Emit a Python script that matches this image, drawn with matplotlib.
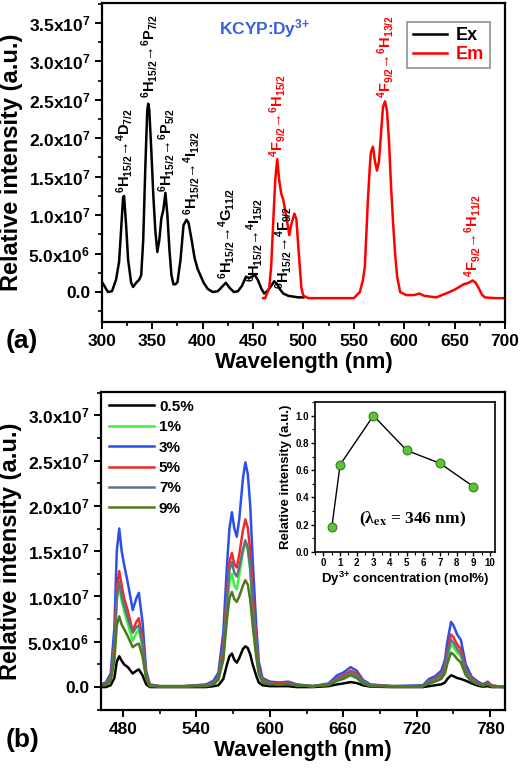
import matplotlib
matplotlib.use('Agg')
import matplotlib.pyplot as plt
from matplotlib.ticker import MultipleLocator

plt.rcParams['font.family'] = ['Liberation Sans', 'DejaVu Sans']
plt.rcParams['font.weight'] = 'bold'
plt.rcParams['mathtext.fontset'] = 'custom'
plt.rcParams['mathtext.rm'] = 'Liberation Sans:bold'
plt.rcParams['mathtext.bf'] = 'Liberation Sans:bold'
plt.rcParams['mathtext.default'] = 'bf'

# ---- (a) excitation / emission spectra (intensity in 1e6 a.u.)
ex_wl = [300, 303, 306, 310, 314, 317, 319, 321, 322, 324, 326, 329, 331, 334, 337, 339,
         341, 343, 345, 346, 347, 349, 351, 353, 355, 357, 359, 361, 363, 365, 367, 369,
         371, 373, 375, 378, 381, 384, 386, 389, 392, 395, 398, 401, 405, 410, 415, 419,
         423, 427, 431, 435, 439, 443, 446, 449, 452, 455, 458, 461, 464, 468, 471, 474,
         477, 480, 485, 490, 495, 500]
ex_int = [1.3, 0.65, 0.0, 0.1, 1.6, 3.9, 8.0, 12.3, 12.5, 8.7, 4.2, 1.2, 0.65, 1.2, 1.6, 2.2,
          6.8, 15.9, 23.7, 24.5, 23.7, 18.5, 12.6, 8.0, 5.2, 6.8, 9.6, 10.7, 12.9, 10.0, 5.5, 2.2,
          1.0, 1.0, 1.3, 4.2, 8.7, 9.4, 9.0, 6.8, 4.4, 3.0, 2.1, 1.2, 0.4, 0.0, 0.1, 0.65,
          1.2, 0.5, 0.0, 0.1, 0.8, 2.0, 1.8, 2.0, 2.2, 1.5, 0.5, -0.2, 0.1, 0.8, 1.4, 1.0,
          0.3, -0.2, -0.5, -0.6, -0.7, -0.7]
em_wl = [460, 462, 466, 468, 470, 472, 474, 476, 478, 480, 483, 486, 488, 491, 493, 494,
         496, 498, 500, 505, 530, 550, 556, 559, 561, 564, 566, 567, 569, 571, 573, 575,
         577, 579, 581, 583, 585, 587, 589, 591, 593, 596, 602, 610, 615, 620, 632, 645,
         650, 654, 659, 664, 668, 671, 674, 677, 680, 690, 700]
em_int = [-0.8, -0.8, 0.5, 3.3, 9.0, 14.5, 17.3, 14.5, 12.8, 12.0, 9.8, 7.4, 8.8, 10.2, 9.5, 7.6,
          4.0, 0.5, -0.5, -0.8, -0.8, -0.8, 0.0, 1.5, 3.3, 12.0, 16.5, 18.2, 18.9, 17.0, 15.8, 17.0,
          20.6, 24.1, 24.8, 23.5, 19.5, 13.7, 9.0, 5.0, 2.0, 0.0, -0.4, -0.4, -0.2, -0.5, -0.7, 0.0,
          0.3, 0.6, 1.0, 1.2, 1.5, 1.2, 0.5, -0.3, -0.7, -0.8, -0.8]

top_yticks = [0, 5e6, 1e7, 1.5e7, 2e7, 2.5e7, 3e7, 3.5e7]
top_yticklabels = ['0.0', '5.0x10$^6$', '1.0x10$^7$', '1.5x10$^7$', '2.0x10$^7$',
                   '2.5x10$^7$', '3.0x10$^7$', '3.5x10$^7$']

# transition labels: (wavelength, bottom of text in 1e6, text, colour)
ex_labels = [
    (322, 12.9, '$^6$H$_{15/2}$→$^4$D$_{7/2}$', 'black'),
    (347, 25.2, '$^6$H$_{15/2}$→$^6$P$_{7/2}$', 'black'),
    (364, 13.0, '$^6$H$_{15/2}$→$^6$P$_{5/2}$', 'black'),
    (389, 10.0, '$^6$H$_{15/2}$→$^4$I$_{13/2}$', 'black'),
    (424, 1.7, '$^6$H$_{15/2}$→$^4$G$_{11/2}$', 'black'),
    (451, 1.3, '$^6$H$_{15/2}$→$^4$I$_{15/2}$', 'black'),
    (480, 0.4, '$^6$H$_{15/2}$→$^4$F$_{9/2}$', 'black'),
    (474, 17.6, '$^4$F$_{9/2}$→$^6$H$_{15/2}$', 'red'),
    (581, 25.2, '$^4$F$_{9/2}$→$^6$H$_{13/2}$', 'red'),
    (668, 1.9, '$^4$F$_{9/2}$→$^6$H$_{11/2}$', 'red'),
]

# ---- (b) emission vs Dy concentration (intensity in 1e6 a.u.)
wl_b = [462, 466, 470, 473, 475, 477, 479, 481, 484, 488, 491, 493, 496, 499, 502, 510,
        530, 548, 554, 558, 562, 565, 567, 569, 571, 573, 575, 578, 580, 582, 584, 586,
        589, 591, 594, 600, 608, 615, 622, 635, 648, 655, 660, 666, 671, 676, 682, 700,
        725, 730, 735, 740, 743, 745, 748, 750, 753, 756, 760, 765, 770, 774, 778, 781,
        785, 792]
conc_labels = ['0.5%', '1%', '3%', '5%', '7%', '9%']
int_05 = [0.0, 0.0, 0.2, 1.0, 2.8, 3.4, 2.9, 2.5, 2.2, 1.5, 1.8, 1.95, 1.3, 0.3, 0.0, 0.0,
          0.0, 0.0, 0.1, 0.2, 0.9, 2.5, 3.4, 3.7, 3.0, 2.7, 3.2, 4.2, 4.5, 4.3, 3.6, 2.5,
          1.2, 0.5, 0.2, 0.1, 0.1, 0.1, 0.0, 0.0, 0.1, 0.3, 0.4, 0.55, 0.45, 0.2, 0.05, 0.0,
          0.0, 0.1, 0.2, 0.3, 0.5, 0.9, 1.3, 1.2, 1.0, 0.9, 0.7, 0.4, 0.15, 0.05, 0.1, 0.0,
          0.0, 0.0]
int_1 = [0.2, 0.3, 0.9, 4.2, 9.6, 11.2, 9.5, 8.4, 7.0, 5.1, 6.0, 6.3, 4.4, 1.1, 0.2, 0.1,
         0.1, 0.2, 0.4, 1.0, 3.6, 8.6, 11.5, 12.5, 11.2, 10.8, 12.4, 14.9, 16.0, 15.1, 12.8, 9.0,
         4.2, 1.8, 0.7, 0.4, 0.3, 0.4, 0.2, 0.1, 0.3, 0.9, 1.1, 1.5, 1.2, 0.5, 0.2, 0.1,
         0.1, 0.6, 0.8, 1.2, 2.0, 3.3, 4.7, 4.4, 3.8, 3.4, 1.6, 0.7, 0.4, 0.2, 0.4, 0.1,
         0.1, 0.0]
int_3 = [0.3, 0.5, 1.5, 6.5, 15.0, 17.5, 15.0, 13.5, 11.5, 8.5, 9.8, 10.4, 7.2, 1.8, 0.3, 0.1,
         0.1, 0.3, 0.7, 1.6, 6.0, 13.5, 17.5, 19.3, 17.5, 16.6, 18.5, 23.0, 24.8, 23.5, 20.0, 14.0,
         6.5, 2.8, 1.0, 0.6, 0.5, 0.6, 0.3, 0.1, 0.4, 1.3, 1.6, 2.2, 1.8, 0.8, 0.3, 0.1,
         0.2, 0.9, 1.2, 1.8, 3.0, 5.0, 7.2, 6.8, 5.8, 5.2, 2.5, 1.1, 0.6, 0.3, 0.6, 0.2,
         0.1, 0.0]
int_5 = [0.2, 0.4, 1.1, 4.8, 11.0, 12.8, 11.2, 9.8, 8.4, 6.2, 7.2, 7.6, 5.3, 1.4, 0.2, 0.1,
         0.1, 0.2, 0.5, 1.2, 4.5, 10.5, 13.8, 14.8, 13.6, 13.2, 14.6, 17.3, 18.5, 17.6, 15.0, 10.5,
         4.9, 2.1, 0.8, 0.5, 0.4, 0.5, 0.2, 0.1, 0.3, 1.0, 1.3, 1.8, 1.5, 0.6, 0.2, 0.1,
         0.1, 0.7, 1.0, 1.4, 2.4, 4.0, 5.8, 5.5, 4.7, 4.2, 2.0, 0.9, 0.5, 0.2, 0.5, 0.2,
         0.1, 0.0]
int_7 = [0.2, 0.3, 1.0, 4.3, 9.9, 11.6, 10.0, 9.0, 7.6, 6.0, 6.6, 6.8, 4.8, 1.2, 0.2, 0.1,
         0.1, 0.2, 0.5, 1.1, 4.0, 9.8, 12.9, 13.8, 12.6, 12.2, 13.2, 15.2, 16.2, 15.4, 13.2, 9.2,
         4.3, 1.9, 0.7, 0.4, 0.3, 0.4, 0.2, 0.1, 0.3, 0.9, 1.1, 1.6, 1.3, 0.6, 0.2, 0.1,
         0.1, 0.6, 0.9, 1.2, 2.1, 3.6, 5.2, 4.9, 4.2, 3.7, 1.8, 0.8, 0.4, 0.2, 0.4, 0.1,
         0.1, 0.0]
int_9 = [0.2, 0.2, 0.7, 2.9, 6.8, 7.8, 6.9, 6.4, 5.6, 4.4, 4.7, 4.8, 3.4, 0.9, 0.1, 0.05,
         0.05, 0.1, 0.3, 0.8, 3.0, 7.5, 9.8, 10.5, 9.7, 9.4, 10.0, 11.2, 11.8, 11.3, 9.6, 6.8,
         3.2, 1.4, 0.5, 0.3, 0.3, 0.3, 0.2, 0.1, 0.2, 0.7, 0.9, 1.3, 1.0, 0.4, 0.1, 0.05,
         0.1, 0.4, 0.6, 0.9, 1.5, 2.6, 3.8, 3.6, 3.1, 2.7, 1.3, 0.6, 0.3, 0.2, 0.3, 0.1,
         0.05, 0.0]
conc_series = [int_05, int_1, int_3, int_5, int_7, int_9]
conc_colors = ['black', '#3cf03c', '#2b4fe8', '#f02a2a', '#5f7282', '#4d7a1c']

bot_yticks = [0, 5e6, 1e7, 1.5e7, 2e7, 2.5e7, 3e7]
bot_yticklabels = ['0.0', '5.0x10$^6$', '1.0x10$^7$', '1.5x10$^7$', '2.0x10$^7$',
                   '2.5x10$^7$', '3.0x10$^7$']

# inset: integrated intensity vs concentration
conc_mol = [0.5, 1, 3, 5, 7, 9]
rel_int = [0.18, 0.64, 1.0, 0.745, 0.65, 0.48]


def style_axes(ax, size=12.5):
    for s in ax.spines.values():
        s.set_linewidth(1.6)
    ax.tick_params(which='major', direction='out', length=5, width=1.4, labelsize=size)
    ax.tick_params(which='minor', direction='out', length=3, width=1.2)
    ax.tick_params(top=False, right=False)


fig = plt.figure(figsize=(5.2, 7.71), dpi=100)

# ---------------- panel (a)
ax1 = fig.add_axes([0.196, 0.5824, 0.775, 0.4137])
ax1.plot(ex_wl, [v * 1e6 for v in ex_int], color='black', lw=1.8, label='Ex')
ax1.plot(em_wl, [v * 1e6 for v in em_int], color='red', lw=1.8, label='Em')
ax1.set_xlim(300, 700)
ax1.set_ylim(-3.9e6, 3.76e7)
ax1.set_yticks(top_yticks)
ax1.set_yticklabels(top_yticklabels)
ax1.xaxis.set_major_locator(MultipleLocator(50))
ax1.xaxis.set_minor_locator(MultipleLocator(25))
ax1.yaxis.set_minor_locator(MultipleLocator(2.5e6))
style_axes(ax1)
ax1.set_xlabel('Wavelength (nm)', fontsize=16, fontweight='bold', labelpad=2)
ax1.set_ylabel('Relative intensity (a.u.)', fontsize=17, fontweight='bold', labelpad=4)

for wl, base, txt, col in ex_labels:
    ax1.text(wl, base * 1e6, txt, rotation=90, ha='center', va='bottom',
             fontsize=10.5, color=col, fontweight='bold')

ax1.text(0.29, 0.92, 'KCYP:Dy$^{3{+}}$', transform=ax1.transAxes, color='#3a62e0',
         fontsize=12.5, fontweight='bold', ha='left', va='center')

leg1 = ax1.legend(loc='upper right', fontsize=13, frameon=True, fancybox=False,
                  handlelength=1.9, borderpad=0.3, labelspacing=0.1,
                  handletextpad=0.5, bbox_to_anchor=(0.985, 0.97))
leg1.get_frame().set_edgecolor('#7f8f8f')
leg1.get_frame().set_linewidth(1.4)
for t, c in zip(leg1.get_texts(), ['black', 'red']):
    t.set_color(c)

fig.text(0.01, 0.558, '(a)', fontsize=19, fontweight='bold', ha='left', va='center')

# ---------------- panel (b)
ax2 = fig.add_axes([0.194, 0.079, 0.777, 0.4125])
for vals, lab, col in zip(conc_series, conc_labels, conc_colors):
    ax2.plot(wl_b, [v * 1e6 for v in vals], color=col, lw=1.8, label=lab)
ax2.set_xlim(462, 792)
ax2.set_ylim(-2.54e6, 3.256e7)
ax2.set_yticks(bot_yticks)
ax2.set_yticklabels(bot_yticklabels)
ax2.xaxis.set_major_locator(MultipleLocator(60))
ax2.xaxis.set_minor_locator(MultipleLocator(30))
ax2.yaxis.set_minor_locator(MultipleLocator(2.5e6))
style_axes(ax2)
ax2.set_xlabel('Wavelength (nm)', fontsize=16, fontweight='bold', labelpad=2)
ax2.set_ylabel('Relative intensity (a.u.)', fontsize=17, fontweight='bold', labelpad=4)

leg2 = ax2.legend(loc='upper left', fontsize=11, frameon=False, handlelength=3.0,
                  labelspacing=0.42, handletextpad=0.3, borderaxespad=0.1,
                  bbox_to_anchor=(0.0, 1.0))

fig.text(0.01, 0.04, '(b)', fontsize=19, fontweight='bold', ha='left', va='center')

# ---------------- inset
ax3 = fig.add_axes([0.606, 0.284, 0.346, 0.1946])
ax3.plot(conc_mol, rel_int, color='black', lw=1.0, zorder=2)
ax3.scatter(conc_mol, rel_int, s=40, color='#5cc43a', edgecolors='#2f7d1c',
            linewidths=0.8, zorder=3)
ax3.set_xlim(-0.5, 10.3)
ax3.set_ylim(0, 1.1)
ax3.xaxis.set_major_locator(MultipleLocator(1))
ax3.xaxis.set_minor_locator(MultipleLocator(0.5))
ax3.yaxis.set_minor_locator(MultipleLocator(0.1))
ax3.set_yticks([0, 0.2, 0.4, 0.6, 0.8, 1.0])
ax3.set_yticklabels(['0.0', '0.2', '0.4', '0.6', '0.8', '1.0'])
for s in ax3.spines.values():
    s.set_linewidth(1.2)
ax3.tick_params(which='major', direction='out', length=3, width=1.0, labelsize=7, pad=1.5)
ax3.tick_params(which='minor', direction='out', length=2, width=0.8)
ax3.set_xlabel('Dy$^{3{+}}$ concentration (mol%)', fontsize=9.5, fontweight='bold', labelpad=1)
ax3.set_ylabel('Relative intensity (a.u.)', fontsize=9.5, fontweight='bold', labelpad=2)
ax3.text(0.54, 0.22, '(λ$_{ex}$ = 346 nm)', transform=ax3.transAxes, ha='center',
         va='center', fontsize=12.5, fontweight='bold', family='Liberation Serif',
         math_fontfamily='stix')

fig.savefig('out.png', dpi=100)
